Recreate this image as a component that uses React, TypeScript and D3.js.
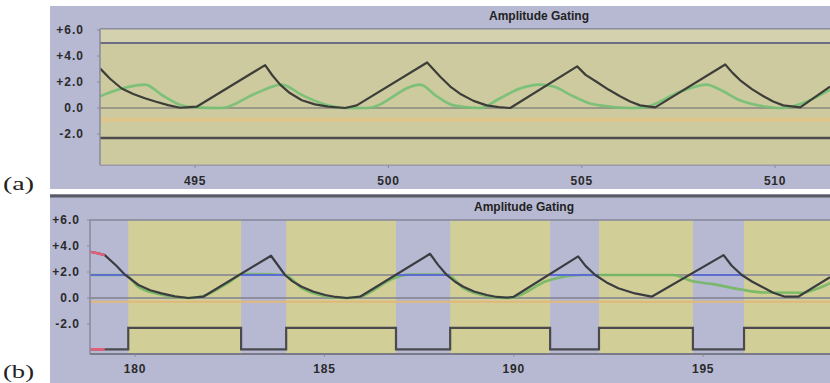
import React from "react";
import * as d3 from "d3";

// ---------- Data ----------
// Panel (a)
const aBlackX = [492.54, 492.8, 493.1, 493.4, 493.7, 493.97, 494.3, 494.61, 495.04, 496.81, 497.0, 497.2, 497.45, 497.76, 498.1, 498.44, 498.88, 499.18, 501.0, 501.34, 501.6, 501.85, 502.2, 502.54, 502.85, 503.15, 504.88, 505.1, 505.39, 505.7, 505.99, 506.25, 506.51, 506.9, 508.71, 508.9, 509.09, 509.4, 509.7, 509.95, 510.21, 510.65, 511.42];
const aBlackY = [3.05, 2.25, 1.5, 1.08, 0.75, 0.5, 0.22, 0.02, 0.1, 3.3, 2.5, 1.8, 1.15, 0.6, 0.28, 0.1, 0.0, 0.2, 3.5, 2.4, 1.65, 1.1, 0.55, 0.2, 0.07, 0.0, 3.2, 2.55, 2.0, 1.4, 0.9, 0.5, 0.2, 0.05, 3.35, 2.7, 2.15, 1.45, 0.9, 0.5, 0.2, 0.05, 1.65];
const aGreenX = [492.54, 493.1, 493.71, 494.14, 494.66, 495.0, 495.69, 496.55, 497.24, 497.76, 498.28, 498.88, 499.44, 500.82, 501.25, 501.68, 502.37, 502.89, 503.4, 503.92, 504.27, 504.78, 505.21, 505.47, 506.25, 506.6, 507.54, 508.23, 508.58, 509.09, 509.78, 510.13, 511.42];
const aGreenY = [0.9, 1.5, 1.8, 1.0, 0.2, 0.05, 0.0, 1.1, 1.8, 1.0, 0.35, 0.0, 0.0, 1.8, 0.9, 0.2, 0.0, 0.75, 1.5, 1.8, 1.65, 0.9, 0.35, 0.2, 0.0, 0.05, 1.25, 1.8, 1.4, 0.6, 0.1, 0.0, 1.4];
const aRefLines = [5.0, 0.0];
const aOrangeLevel = -0.9;
const aDarkLevel = -2.3;

// Panel (b)
const bBlackX = [178.81, 179.0, 179.2, 179.5, 179.74, 180.09, 180.4, 180.7, 181.05, 181.41, 181.8, 183.59, 183.96, 184.15, 184.4, 184.7, 185.02, 185.3, 185.59, 185.94, 187.79, 188.0, 188.23, 188.45, 188.67, 188.95, 189.29, 189.55, 189.82, 189.99, 191.7, 191.9, 192.15, 192.45, 192.76, 193.2, 193.64, 195.54, 195.75, 196.02, 196.3, 196.55, 196.85, 197.16, 197.51, 198.35];
const bBlackY = [3.56, 3.45, 3.3, 2.5, 1.77, 1.0, 0.6, 0.36, 0.12, 0.0, 0.1, 3.25, 1.77, 1.3, 0.87, 0.5, 0.23, 0.08, 0.0, 0.1, 3.4, 2.55, 1.77, 1.25, 0.87, 0.5, 0.23, 0.08, 0.03, 0.08, 3.2, 2.45, 1.77, 1.2, 0.75, 0.35, 0.1, 3.3, 2.5, 1.77, 1.25, 0.87, 0.4, 0.1, 0.1, 1.6];
const bGreenX = [178.81, 179.74, 180.09, 180.7, 181.41, 181.8, 182.5, 182.85, 183.96, 184.4, 185.02, 185.59, 185.94, 186.82, 187.2, 188.23, 188.67, 189.29, 189.82, 190.0, 190.87, 191.8, 194.2, 194.7, 195.3, 196.0, 196.6, 197.6, 198.0, 198.35];
const bGreenY = [1.77, 1.77, 0.85, 0.25, 0.0, 0.15, 1.25, 1.85, 1.77, 0.75, 0.15, 0.0, 0.1, 1.5, 1.8, 1.8, 0.75, 0.15, 0.0, 0.05, 1.3, 1.77, 1.77, 1.3, 1.05, 0.65, 0.42, 0.4, 0.7, 1.15];
const bGateStart = [179.82, 183.99, 188.32, 192.25, 196.08];
const bGateEnd = [182.8, 186.89, 190.96, 194.73, 198.35];
const bGateHigh = -2.3;
const bGateLow = -3.95;
const bThreshold = 1.77;
const bOrangeLevel = -0.28;
const bRedEnd = 179.2;

const aXTicks = [495, 500, 505, 510];
const bXTicks = [180, 185, 190, 195];
const yTicks = [6, 4, 2, 0, -2];
const yTickLabels = ["+6.0", "+4.0", "+2.0", "0.0", "-2.0"];
const panelTitle = "Amplitude Gating";

// ---------- Layout ----------
const W = 830;
const H = 383;
const LAV = "#b7b9d3";
const YEL_A = "#cdcaa0";
const YEL_B = "#d2ce98";
const FONT = "'Liberation Sans', Arial, sans-serif";

const xA = d3.scaleLinear().domain([492.54, 511.42]).range([100, 830]);
const yA = d3.scaleLinear().domain([-4.4, 6.1]).range([165.2, 28.7]);
const xB = d3.scaleLinear().domain([178.81, 198.35]).range([90, 830]);
const yB = d3.scaleLinear().domain([-4.3, 6.0]).range([353.9, 220]);

type P = [number, number];
const zip = (xs: number[], ys: number[]): P[] => xs.map((x, i) => [x, ys[i]]);

export default function App() {
  const lineA = d3.line<P>().x((d) => xA(d[0])).y((d) => yA(d[1]));
  const lineAs = d3.line<P>().x((d) => xA(d[0])).y((d) => yA(d[1])).curve(d3.curveMonotoneX);
  const lineB = d3.line<P>().x((d) => xB(d[0])).y((d) => yB(d[1]));
  const lineBs = d3.line<P>().x((d) => xB(d[0])).y((d) => yB(d[1])).curve(d3.curveMonotoneX);

  const [ax0, ax1] = xA.range();
  const [bx0, bx1] = xB.range();
  const bDom = xB.domain();

  // square wave points from gates
  const sq: P[] = [[bDom[0], bGateLow]];
  bGateStart.forEach((s, i) => {
    const e = bGateEnd[i];
    sq.push([s, bGateLow], [s, bGateHigh], [e, bGateHigh]);
    if (e < bDom[1]) sq.push([e, bGateLow]);
  });
  const last = sq[sq.length - 1];
  if (last[0] < bDom[1]) sq.push([bDom[1], last[1]]);

  // ungated intervals
  const ungated: [number, number][] = [];
  let cur = bDom[0];
  bGateStart.forEach((s, i) => {
    if (s > cur) ungated.push([cur, s]);
    cur = bGateEnd[i];
  });
  if (cur < bDom[1]) ungated.push([cur, bDom[1]]);

  const bTop = yB(6.0);
  const bBot = yB(-4.3);

  const blackA = zip(aBlackX, aBlackY);
  const greenA = zip(aGreenX, aGreenY);
  const blackB = zip(bBlackX, bBlackY);
  const greenB = zip(bGreenX, bGreenY);

  return (
    <svg width={W} height={H} style={{ position: "absolute", left: 0, top: 0, background: "#fff" }}>
      <defs>
        <clipPath id="clipA">
          <rect x={ax0} y={yA(6.1)} width={ax1 - ax0} height={yA(-4.4) - yA(6.1)} />
        </clipPath>
        <clipPath id="redclip">
          <rect x={bx0 - 2} y={bTop} width={xB(bRedEnd) - bx0 + 2} height={bBot - bTop + 2} />
        </clipPath>
        <clipPath id="clipB">
          <rect x={bx0} y={bTop - 1} width={bx1 - bx0} height={bBot - bTop + 2} />
        </clipPath>
      </defs>

      {/* ---------- Panel (a) ---------- */}
      <rect x={50} y={6} width={W - 50} height={183} fill={LAV} />
      <text x={539} y={20} textAnchor="middle" fontFamily={FONT} fontWeight="bold" fontSize={12} fill="#222">
        {panelTitle}
      </text>
      <rect x={ax0} y={yA(6.1)} width={ax1 - ax0} height={yA(-4.4) - yA(6.1)} fill={YEL_A} />
      <rect x={ax0} y={yA(6.1)} width={ax1 - ax0} height={yA(5.0) - yA(6.1)} fill="#d4d2ae" />
      <line x1={ax0} x2={ax1} y1={yA(6.1)} y2={yA(6.1)} stroke="#8c8ca0" strokeWidth={1.5} />
      <g clipPath="url(#clipA)">
        {aRefLines.map((v, i) => (
          <line key={i} x1={ax0} x2={ax1} y1={yA(v)} y2={yA(v)} stroke={i === 0 ? "#6c6c84" : "#88887c"} strokeWidth={i === 0 ? 2 : 1.5} />
        ))}
        <line x1={ax0} x2={ax1} y1={yA(aOrangeLevel)} y2={yA(aOrangeLevel)} stroke="#e3c488" strokeWidth={4} opacity={0.85} />
        <line x1={ax0} x2={ax1} y1={yA(aDarkLevel)} y2={yA(aDarkLevel)} stroke="#4c4c4c" strokeWidth={2.5} />
        <path d={lineAs(greenA) || ""} fill="none" stroke="#74c074" strokeWidth={2.6} opacity={0.9} />
        <path d={lineA(blackA) || ""} fill="none" stroke="#3e3e38" strokeWidth={2.2} strokeLinejoin="round" />
      </g>
      <line x1={ax0} x2={ax0} y1={yA(6.1)} y2={yA(-4.4)} stroke="#8a8a9c" strokeWidth={1.5} />
      <line x1={ax0} x2={ax1} y1={yA(-4.4)} y2={yA(-4.4)} stroke="#9a9aa8" strokeWidth={1.5} />
      {yTicks.map((v, i) => (
        <g key={i}>
          <line x1={ax0 - 3} x2={ax0} y1={yA(v)} y2={yA(v)} stroke="#8a8a9c" />
          <text x={84} y={yA(v) + 4} textAnchor="end" fontFamily={FONT} fontWeight="bold" fontSize={12} letterSpacing={1} fill="#2a2a2a">
            {yTickLabels[i]}
          </text>
        </g>
      ))}
      {aXTicks.map((v) => (
        <g key={v}>
          <line x1={xA(v)} x2={xA(v)} y1={yA(-4.4)} y2={yA(-4.4) + 3} stroke="#8a8a9c" />
          <text x={xA(v)} y={185} textAnchor="middle" fontFamily={FONT} fontWeight="bold" fontSize={12} letterSpacing={0.8} fill="#2a2a2a">
            {v}
          </text>
        </g>
      ))}
      <text x={3} y={190} fontFamily="'Liberation Serif', 'Times New Roman', serif" fontSize={18} textLength={31} lengthAdjust="spacingAndGlyphs" fill="#222">
        (a)
      </text>

      {/* ---------- Panel (b) ---------- */}
      <rect x={50} y={194} width={W - 50} height={H - 194} fill={LAV} />
      <line x1={50} x2={W} y1={196} y2={196} stroke="#5a5a62" strokeWidth={3} />
      <text x={524} y={211} textAnchor="middle" fontFamily={FONT} fontWeight="bold" fontSize={12} fill="#222">
        {panelTitle}
      </text>
      {bGateStart.map((s, i) => (
        <rect key={i} x={xB(s)} y={bTop} width={xB(bGateEnd[i]) - xB(s)} height={bBot - bTop} fill={YEL_B} />
      ))}
      <line x1={bx0} x2={bx1} y1={bTop} y2={bTop} stroke="#86869a" strokeWidth={1.5} />
      <g clipPath="url(#clipB)">
        <line x1={bx0} x2={bx1} y1={yB(bThreshold)} y2={yB(bThreshold)} stroke="#808090" strokeWidth={1.6} />
        <line x1={bx0} x2={bx1} y1={yB(0)} y2={yB(0)} stroke="#808090" strokeWidth={1.6} />
        <line x1={bx0} x2={bx1} y1={yB(bOrangeLevel)} y2={yB(bOrangeLevel)} stroke="#e2b878" strokeWidth={2} />
        <path d={lineBs(greenB) || ""} fill="none" stroke="#72b862" strokeWidth={2.6} opacity={0.9} />
        {ungated.map((u, i) => (
          <line key={i} x1={xB(u[0])} x2={xB(u[1])} y1={yB(bThreshold)} y2={yB(bThreshold)} stroke="#5c6cd0" strokeWidth={2.2} />
        ))}
        <path d={lineB(blackB) || ""} fill="none" stroke="#3c3c40" strokeWidth={2.2} strokeLinejoin="round" />
        <path d={lineB(sq) || ""} fill="none" stroke="#4a4a4e" strokeWidth={2.2} />
        <g clipPath="url(#redclip)">
          <path d={lineB(blackB) || ""} fill="none" stroke="#e0607a" strokeWidth={2.6} />
          <path d={lineB(sq) || ""} fill="none" stroke="#e0607a" strokeWidth={2.6} />
        </g>
      </g>
      <line x1={bx0} x2={bx0} y1={bTop} y2={bBot} stroke="#8a8a9c" strokeWidth={1.5} />
      <line x1={bx0} x2={bx1} y1={bBot} y2={bBot} stroke="#7a7a88" strokeWidth={2} />
      {yTicks.map((v, i) => (
        <g key={i}>
          <line x1={bx0 - 3} x2={bx0} y1={yB(v)} y2={yB(v)} stroke="#8a8a9c" />
          <text x={80} y={yB(v) + 4} textAnchor="end" fontFamily={FONT} fontWeight="bold" fontSize={12} letterSpacing={1} fill="#2a2a2a">
            {yTickLabels[i]}
          </text>
        </g>
      ))}
      {bXTicks.map((v) => (
        <g key={v}>
          <line x1={xB(v)} x2={xB(v)} y1={bBot} y2={bBot + 3} stroke="#8a8a9c" />
          <text x={xB(v)} y={373} textAnchor="middle" fontFamily={FONT} fontWeight="bold" fontSize={12} letterSpacing={0.8} fill="#2a2a2a">
            {v}
          </text>
        </g>
      ))}
      <text x={3} y={378} fontFamily="'Liberation Serif', 'Times New Roman', serif" fontSize={18} textLength={31} lengthAdjust="spacingAndGlyphs" fill="#222">
        (b)
      </text>
    </svg>
  );
}
